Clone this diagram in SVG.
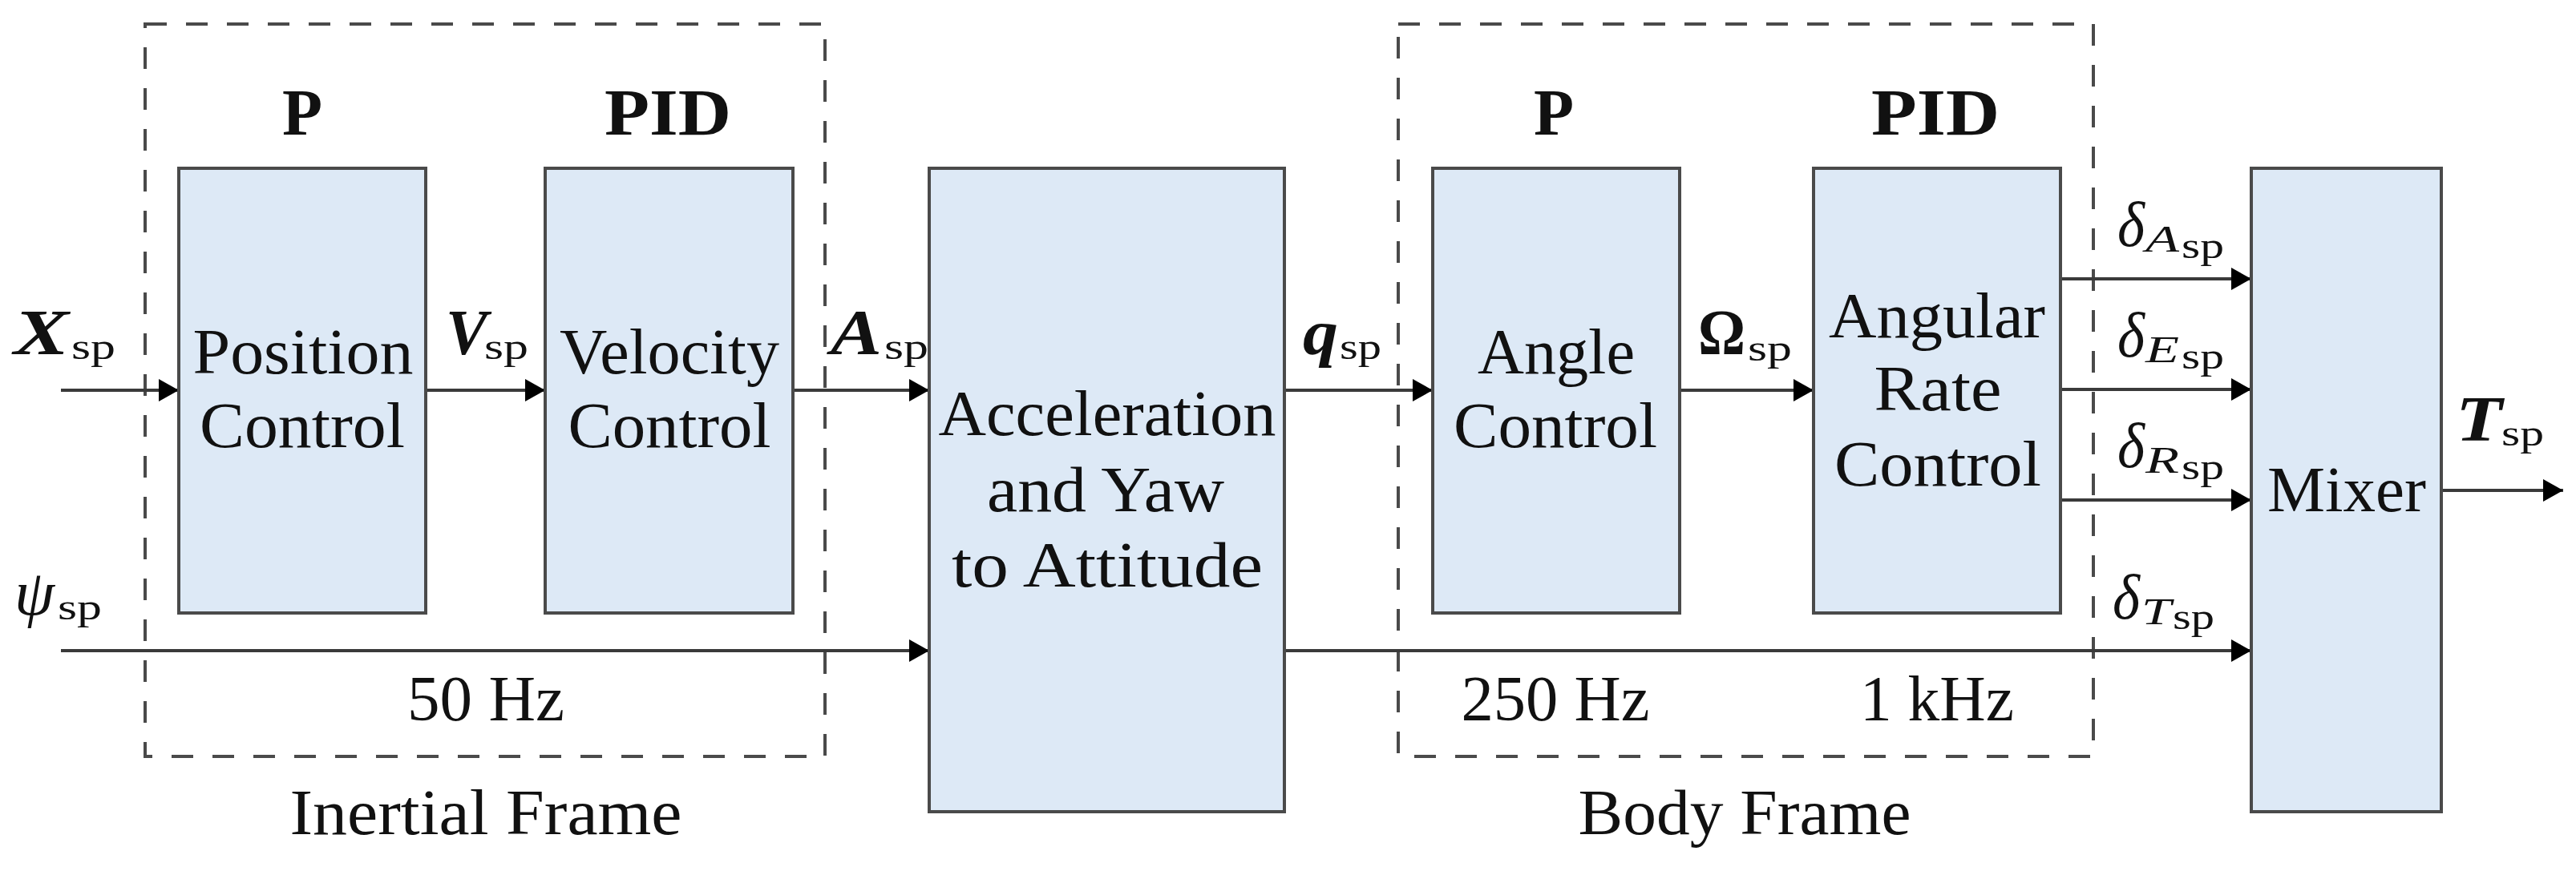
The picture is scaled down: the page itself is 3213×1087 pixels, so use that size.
<svg xmlns="http://www.w3.org/2000/svg" width="3213" height="1087" viewBox="0 0 3213 1087">
<style>
  text { font-family: "Liberation Serif", "DejaVu Serif", serif; fill: #111; }
  .lbl { font-size: 80px; text-anchor: middle; }
  .hdr { font-size: 82px; font-weight: bold; text-anchor: middle; }
  .box { fill: #dde9f6; stroke: #4a4a4a; stroke-width: 4; }
  .frame { fill: none; stroke: #4a4a4a; stroke-width: 4; stroke-dasharray: 27 24; }
  .wire { fill: none; stroke: #3a3a3a; stroke-width: 4; marker-end: url(#arr); }
  .bi { font-size: 80px; font-weight: bold; font-style: italic; }
  .b { font-size: 80px; font-weight: bold; }
  .it { font-size: 80px; font-style: italic; }
  .sub { font-size: 46px; }
  .sub2 { font-size: 46px; font-style: italic; }
</style>
<defs>
  <marker id="arr" markerUnits="userSpaceOnUse" markerWidth="26" markerHeight="28" refX="25" refY="14" orient="auto" viewBox="0 0 26 28">
    <path d="M0,0 L25,14 L0,28 Z" fill="#000"/>
  </marker>
</defs>

<!-- frames -->
<g id="inertial-frame">
  <rect class="frame" x="181" y="30" width="848" height="914"/>
  <text class="lbl" x="606" y="899" textLength="196" lengthAdjust="spacingAndGlyphs">50 Hz</text>
  <text class="lbl" x="606" y="1041" textLength="489" lengthAdjust="spacingAndGlyphs">Inertial Frame</text>
</g>
<g id="body-frame">
  <rect class="frame" x="1744" y="30" width="867" height="914"/>
  <text class="lbl" x="1940" y="899" textLength="235" lengthAdjust="spacingAndGlyphs">250 Hz</text>
  <text class="lbl" x="2416" y="899" textLength="192" lengthAdjust="spacingAndGlyphs">1 kHz</text>
  <text class="lbl" x="2176" y="1041" textLength="415" lengthAdjust="spacingAndGlyphs">Body Frame</text>
</g>

<!-- connectors -->
<g id="connectors">
  <line class="wire" x1="76" y1="487" x2="223" y2="487"/>
  <line class="wire" x1="531" y1="487" x2="680" y2="487"/>
  <line class="wire" x1="989" y1="487" x2="1159" y2="487"/>
  <line class="wire" x1="1602" y1="487" x2="1787" y2="487"/>
  <line class="wire" x1="2095" y1="487" x2="2262" y2="487"/>
  <line class="wire" x1="76" y1="812" x2="1159" y2="812"/>
  <line class="wire" x1="1602" y1="812" x2="2808" y2="812"/>
  <line class="wire" x1="2570" y1="348" x2="2808" y2="348"/>
  <line class="wire" x1="2570" y1="486" x2="2808" y2="486"/>
  <line class="wire" x1="2570" y1="624" x2="2808" y2="624"/>
  <line class="wire" x1="3045" y1="612" x2="3197" y2="612"/>
</g>

<!-- signal labels -->
<g id="signal-labels">
  <g id="lbl-xsp"><text class="bi" x="17" y="442" textLength="69" lengthAdjust="spacingAndGlyphs">X</text><text class="sub" x="89" y="448" textLength="55" lengthAdjust="spacingAndGlyphs">sp</text></g>
  <g id="lbl-vsp"><text class="bi" x="556" y="442" textLength="52" lengthAdjust="spacingAndGlyphs">V</text><text class="sub" x="604" y="448" textLength="55" lengthAdjust="spacingAndGlyphs">sp</text></g>
  <g id="lbl-asp"><text class="bi" x="1036" y="442" textLength="64" lengthAdjust="spacingAndGlyphs">A</text><text class="sub" x="1103" y="448" textLength="55" lengthAdjust="spacingAndGlyphs">sp</text></g>
  <g id="lbl-qsp"><text class="bi" x="1625" y="442" textLength="44" lengthAdjust="spacingAndGlyphs">q</text><text class="sub" x="1671" y="448" textLength="52" lengthAdjust="spacingAndGlyphs">sp</text></g>
  <g id="lbl-omegasp"><text class="b" x="2118" y="442" textLength="59" lengthAdjust="spacingAndGlyphs">Ω</text><text class="sub" x="2180" y="450" textLength="55" lengthAdjust="spacingAndGlyphs">sp</text></g>
  <g id="lbl-tsp"><text class="bi" x="3063" y="550" textLength="58" lengthAdjust="spacingAndGlyphs">T</text><text class="sub" x="3120" y="556" textLength="53" lengthAdjust="spacingAndGlyphs">sp</text></g>
  <g id="lbl-psisp"><text class="it" x="18" y="767" textLength="50" lengthAdjust="spacingAndGlyphs">ψ</text><text class="sub" x="72" y="773" textLength="55" lengthAdjust="spacingAndGlyphs">sp</text></g>
  <g id="lbl-da"><text class="it" x="2641" y="307" textLength="34" lengthAdjust="spacingAndGlyphs">δ</text><text class="sub2" x="2676" y="314" textLength="42" lengthAdjust="spacingAndGlyphs">A</text><text class="sub" x="2721" y="322" textLength="53" lengthAdjust="spacingAndGlyphs">sp</text></g>
  <g id="lbl-de"><text class="it" x="2641" y="445" textLength="34" lengthAdjust="spacingAndGlyphs">δ</text><text class="sub2" x="2676" y="452" textLength="42" lengthAdjust="spacingAndGlyphs">E</text><text class="sub" x="2721" y="460" textLength="53" lengthAdjust="spacingAndGlyphs">sp</text></g>
  <g id="lbl-dr"><text class="it" x="2641" y="583" textLength="34" lengthAdjust="spacingAndGlyphs">δ</text><text class="sub2" x="2676" y="590" textLength="42" lengthAdjust="spacingAndGlyphs">R</text><text class="sub" x="2721" y="598" textLength="53" lengthAdjust="spacingAndGlyphs">sp</text></g>
  <g id="lbl-dt"><text class="it" x="2635" y="772" textLength="34" lengthAdjust="spacingAndGlyphs">δ</text><text class="sub2" x="2671" y="779" textLength="37" lengthAdjust="spacingAndGlyphs">T</text><text class="sub" x="2710" y="785" textLength="52" lengthAdjust="spacingAndGlyphs">sp</text></g>
</g>

<!-- nodes -->
<g id="position-control">
  <rect class="box" x="223" y="210" width="308" height="555"/>
  <text class="hdr" x="377" y="168">P</text>
  <text class="lbl" x="378" y="466" textLength="275" lengthAdjust="spacingAndGlyphs">Position</text>
  <text class="lbl" x="377" y="558" textLength="256" lengthAdjust="spacingAndGlyphs">Control</text>
</g>
<g id="velocity-control">
  <rect class="box" x="680" y="210" width="309" height="555"/>
  <text class="hdr" x="833" y="168" textLength="158" lengthAdjust="spacingAndGlyphs">PID</text>
  <text class="lbl" x="835" y="466" textLength="274" lengthAdjust="spacingAndGlyphs">Velocity</text>
  <text class="lbl" x="835" y="558" textLength="253" lengthAdjust="spacingAndGlyphs">Control</text>
</g>
<g id="accel-yaw-to-attitude">
  <rect class="box" x="1159" y="210" width="443" height="803"/>
  <text class="lbl" x="1381" y="543" textLength="421" lengthAdjust="spacingAndGlyphs">Acceleration</text>
  <text class="lbl" x="1379" y="638" textLength="296" lengthAdjust="spacingAndGlyphs">and Yaw</text>
  <text class="lbl" x="1381" y="732" textLength="388" lengthAdjust="spacingAndGlyphs">to Attitude</text>
</g>
<g id="angle-control">
  <rect class="box" x="1787" y="210" width="308" height="555"/>
  <text class="hdr" x="1938" y="168">P</text>
  <text class="lbl" x="1941" y="466" textLength="196" lengthAdjust="spacingAndGlyphs">Angle</text>
  <text class="lbl" x="1940" y="558" textLength="254" lengthAdjust="spacingAndGlyphs">Control</text>
</g>
<g id="angular-rate-control">
  <rect class="box" x="2262" y="210" width="308" height="555"/>
  <text class="hdr" x="2414" y="168" textLength="160" lengthAdjust="spacingAndGlyphs">PID</text>
  <text class="lbl" x="2416" y="421" textLength="270" lengthAdjust="spacingAndGlyphs">Angular</text>
  <text class="lbl" x="2417" y="512" textLength="159" lengthAdjust="spacingAndGlyphs">Rate</text>
  <text class="lbl" x="2417" y="606" textLength="258" lengthAdjust="spacingAndGlyphs">Control</text>
</g>
<g id="mixer">
  <rect class="box" x="2808" y="210" width="237" height="803"/>
  <text class="lbl" x="2927" y="638" textLength="198" lengthAdjust="spacingAndGlyphs">Mixer</text>
</g>
</svg>
